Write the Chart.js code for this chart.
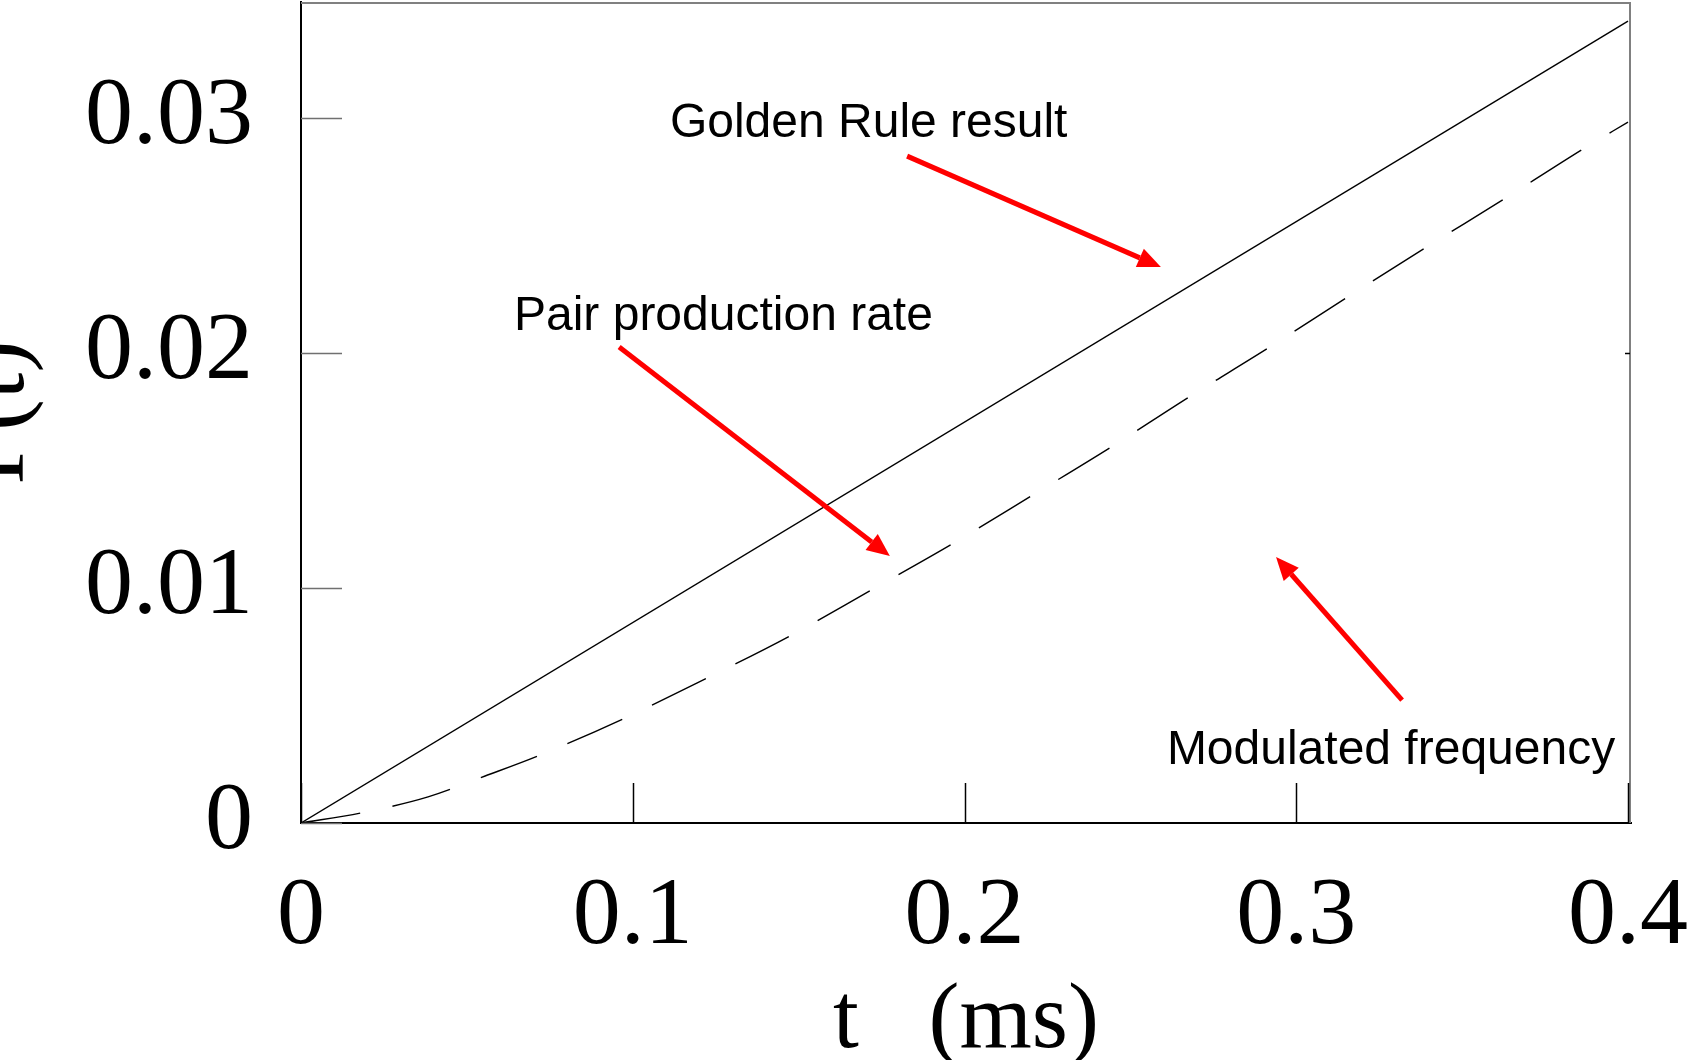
<!DOCTYPE html>
<html>
<head>
<meta charset="utf-8">
<script src="https://cdn.jsdelivr.net/npm/chart.js@4.4.1/dist/chart.umd.min.js"></script>
<style>
  html, body { margin: 0; padding: 0; background: #fff; }
  #wrap { width: 1689px; height: 1060px; position: relative; }
</style>
</head>
<body>
<div id="wrap"><canvas id="chart"></canvas></div>
<script>
// time axis (ms) and probabilities
const tGolden = [0, 0.4];
const pGolden = [0, 0.03413];

const tPair = [0, 0.0181, 0.0383, 0.0555, 0.0714, 0.0971, 0.1224, 0.1474, 0.1718, 0.1962,
  0.2200, 0.2442, 0.2677, 0.2915, 0.3150, 0.3388, 0.3626, 0.3864, 0.4000];
const pPair = [0, 0.00043, 0.00111, 0.00200, 0.00285, 0.00443, 0.00617, 0.00796, 0.00991, 0.01187,
  0.01391, 0.01600, 0.01813, 0.02021, 0.02234, 0.02447, 0.02655, 0.02868, 0.02983];

const xTicks = [0, 0.1, 0.2, 0.3, 0.4];
const xTickLabels = ["0", "0.1", "0.2", "0.3", "0.4"];
const yTicks = [0, 0.01, 0.02, 0.03];
const yTickLabels = ["0", "0.01", "0.02", "0.03"];

// annotations: [text, t, p] and arrows [tailT, tailP, tipT, tipP]
const notes = [
  ["Golden Rule result", 0.1112, 0.02919],
  ["Pair production rate", 0.0642, 0.02098],
  ["Modulated frequency", 0.2610, 0.00251]
];
const arrows = [
  [0.1827, 0.02838, 0.2592, 0.02366],
  [0.0959, 0.02026, 0.1775, 0.01136],
  [0.3319, 0.00523, 0.2939, 0.01132]
];

const serif = "'Liberation Serif', 'Times New Roman', serif";
const sans = "'Liberation Sans', Arial, sans-serif";

const frame = {
  id: "frame",
  afterDatasetsDraw(chart) {
    const ctx = chart.ctx;
    const a = chart.chartArea;
    const xs = chart.scales.x, ys = chart.scales.y;
    ctx.save();

    // top and right border
    ctx.strokeStyle = "#808080";
    ctx.lineWidth = 2;
    ctx.beginPath();
    ctx.moveTo(a.left, a.top + 1);
    ctx.lineTo(a.right - 1, a.top + 1);
    ctx.lineTo(a.right - 1, a.bottom);
    ctx.stroke();

    // inward ticks
    ctx.lineWidth = 1.5;
    ctx.strokeStyle = "#707070";
    yTicks.forEach(v => {
      const y = Math.round(ys.getPixelForValue(v)) + 0.5;
      ctx.beginPath();
      ctx.moveTo(a.left, y);
      ctx.lineTo(a.left + 41, y);
      ctx.stroke();
    });
    ctx.strokeStyle = "#000";
    xTicks.forEach(v => {
      const x = Math.round(xs.getPixelForValue(v)) + 0.5;
      ctx.beginPath();
      ctx.moveTo(x, a.bottom);
      ctx.lineTo(x, a.bottom - 40);
      ctx.stroke();
    });
    const y2 = Math.round(ys.getPixelForValue(0.02)) + 0.5;
    ctx.beginPath();
    ctx.moveTo(a.right - 1, y2);
    ctx.lineTo(a.right - 6, y2);
    ctx.stroke();

    // red arrows
    ctx.strokeStyle = "#ff0000";
    ctx.fillStyle = "#ff0000";
    arrows.forEach(r => {
      const x0 = xs.getPixelForValue(r[0]), y0 = ys.getPixelForValue(r[1]);
      const x1 = xs.getPixelForValue(r[2]), y1 = ys.getPixelForValue(r[3]);
      const ang = Math.atan2(y1 - y0, x1 - x0);
      const hl = 23, hw = 10;
      const bx = x1 - hl * Math.cos(ang), by = y1 - hl * Math.sin(ang);
      ctx.lineWidth = 5;
      ctx.beginPath();
      ctx.moveTo(x0, y0);
      ctx.lineTo(bx, by);
      ctx.stroke();
      ctx.beginPath();
      ctx.moveTo(x1, y1);
      ctx.lineTo(bx + hw * Math.sin(ang), by - hw * Math.cos(ang));
      ctx.lineTo(bx - hw * Math.sin(ang), by + hw * Math.cos(ang));
      ctx.closePath();
      ctx.fill();
    });

    // labels
    ctx.fillStyle = "#000";
    ctx.font = "48px " + sans;
    ctx.textAlign = "left";
    ctx.textBaseline = "alphabetic";
    notes.forEach(n => {
      ctx.fillText(n[0], xs.getPixelForValue(n[1]), ys.getPixelForValue(n[2]));
    });
    ctx.restore();
  }
};

function noPad(s) {
  s.paddingTop = 0;
  s.paddingBottom = 0;
  s.paddingLeft = 0;
  s.paddingRight = 0;
}

new Chart(document.getElementById("chart"), {
  type: "line",
  data: {
    datasets: [
      {
        label: "Golden Rule result",
        data: tGolden.map((t, i) => ({ x: t, y: pGolden[i] })),
        borderColor: "#000",
        borderWidth: 1.4,
        pointRadius: 0,
        fill: false
      },
      {
        label: "Pair production rate",
        data: tPair.map((t, i) => ({ x: t, y: pPair[i] })),
        borderColor: "#000",
        borderWidth: 1.4,
        borderDash: [60, 33],
        pointRadius: 0,
        cubicInterpolationMode: "monotone",
        fill: false
      }
    ]
  },
  options: {
    responsive: true,
    maintainAspectRatio: false,
    animation: false,
    layout: { padding: { top: 2, right: 58, bottom: 0, left: 0 } },
    plugins: {
      legend: { display: false },
      tooltip: { enabled: false }
    },
    scales: {
      x: {
        type: "linear",
        min: 0,
        max: 0.4009,
        afterFit: s => { s.height = 237; noPad(s); },
        afterBuildTicks: s => { s.ticks = xTicks.map(v => ({ value: v })); },
        grid: { display: false },
        border: { color: "#000", width: 2 },
        ticks: {
          color: "#000",
          padding: 29,
          maxRotation: 0,
          autoSkip: false,
          font: { family: serif, size: 96 },
          callback: (v, i) => xTickLabels[i]
        },
        title: {
          display: true,
          text: "t   (ms)",
          color: "#000",
          font: { family: serif, size: 93 },
          padding: { top: 0, bottom: -18 }
        }
      },
      y: {
        type: "linear",
        min: 0,
        max: 0.03494,
        afterFit: s => { s.width = 301; noPad(s); },
        afterBuildTicks: s => { s.ticks = yTicks.map(v => ({ value: v })); },
        grid: { display: false },
        border: { color: "#000", width: 2 },
        ticks: {
          color: "#000",
          padding: 40,
          autoSkip: false,
          font: { family: serif, size: 96 },
          callback: (v, i) => yTickLabels[i]
        },
        title: {
          display: true,
          text: "P(t)",
          color: "#000",
          font: { family: serif, size: 96 },
          padding: { top: -60, bottom: 0 }
        }
      }
    }
  },
  plugins: [frame]
});
</script>
</body>
</html>
